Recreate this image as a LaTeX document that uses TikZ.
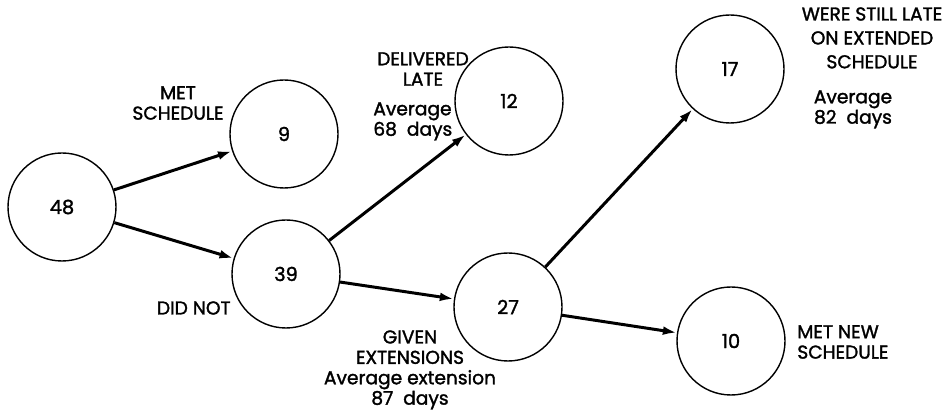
\documentclass[tikz,border=0pt]{standalone}
\usepackage{fontspec}
\setmainfont{Poppins}[FakeBold=1.6]
\usepackage{tikz}
\usetikzlibrary{arrows.meta, positioning}

\begin{document}
\begin{tikzpicture}[
		state/.style={circle, draw, line width=0.8pt, minimum size=2.16cm,
			inner sep=0pt, font=\fontsize{11}{13}\selectfont},
		flow/.style={-{Latex[length=8pt, width=5pt]}, line width=1.7pt},
		note/.style={font=\fontsize{10.6}{11.6}\selectfont, inner sep=0pt}]
	\useasboundingbox (0,0) rectangle (18.94,8.26);
	%--- states ---
	\node[state] (n48) at (1.24,4.12) {48};
	\node[state] (n9)  at (5.68,5.58) {9};
	\node[state] (n39) at (5.72,2.78) {39};
	\node[state] (n12) at (10.18,6.24) {12};
	\node[state] (n27) at (10.16,2.12) {27};
	\node[state] (n17) at (14.60,6.88) {17};
	\node[state] (n10) at (14.62,1.44) {10};
	%--- flows ---
	\draw[flow] (n48) -- (n9);
	\draw[flow] (n48) -- (n39);
	\draw[flow] (n39) -- (n12);
	\draw[flow] (n39) -- (n27);
	\draw[flow] (n27) -- (n17);
	\draw[flow] (n27) -- (n10);
	%--- labels ---
	\node[note, align=center] (metLbl) at (3.56,6.20) {MET\\SCHEDULE};
	\node[note, anchor=east] (didLbl) at (4.62,2.10) {DID NOT};
	\node[note, align=center] (lateLbl) at (8.46,6.88) {DELIVERED\\LATE};
	\node[note, align=left, anchor=north west] (lateAvg) at (7.46,6.22)
		{Average\\68~~days};
	\node[note, align=center, anchor=north] (extLbl) at (8.20,1.66)
		{GIVEN\\EXTENSIONS\\Average extension\\87~~days};
	\node[note, align=center, anchor=north] (stillLbl) at (17.44,8.12)
		{WERE STILL LATE\\[2pt]ON EXTENDED\\[2pt]SCHEDULE};
	\node[note, align=center, anchor=north] (stillAvg) at (17.06,6.46)
		{Average\\82~~days};
	\node[note, align=left, anchor=west] (newLbl) at (15.94,1.42)
		{MET NEW\\SCHEDULE};
\end{tikzpicture}
\end{document}
